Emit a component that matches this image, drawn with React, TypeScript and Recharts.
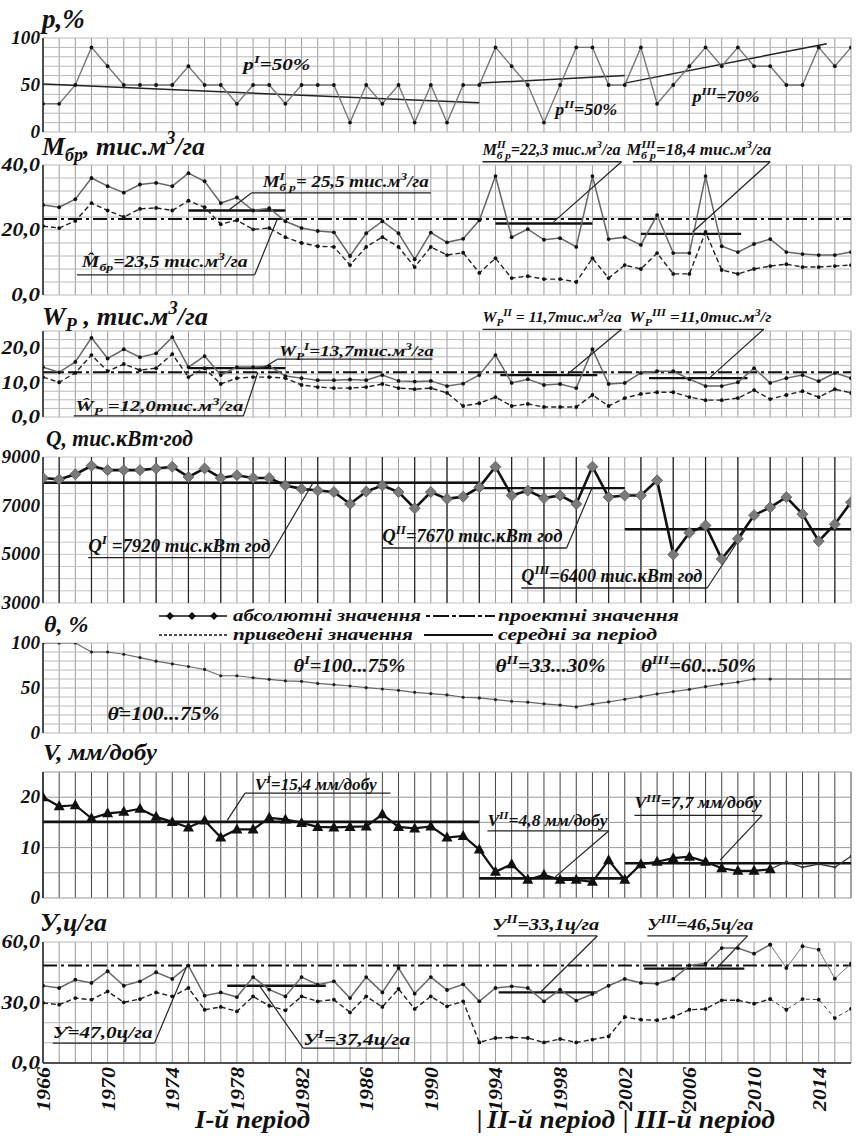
import React from 'react';
import { CartesianGrid, Line, LineChart, ReferenceDot, ReferenceLine, XAxis, YAxis } from 'recharts';

const FONT = "'Liberation Serif', 'Times New Roman', serif";
const W = 858;
const H = 1136;
const LEFT = 43;
const RIGHT = 851;
const YW = 42;

// x axis: one point per year
const YEARS = [
  1966, 1967, 1968, 1969, 1970, 1971, 1972, 1973, 1974, 1975,
  1976, 1977, 1978, 1979, 1980, 1981, 1982, 1983, 1984, 1985,
  1986, 1987, 1988, 1989, 1990, 1991, 1992, 1993, 1994, 1995,
  1996, 1997, 1998, 1999, 2000, 2001, 2002, 2003, 2004, 2005,
  2006, 2007, 2008, 2009, 2010, 2011, 2012, 2013, 2014, 2015,
  2016,
];
const PERIOD_BREAKS = [1993, 2002];
const CUT_YEAR = 2011;

// p, %
const P_ABS = [
  30, 30, 50, 90, 70, 50, 50, 50, 50, 70,
  50, 50, 30, 50, 50, 30, 50, 50, 50, 10,
  50, 30, 50, 10, 50, 10, 50, 50, 90, 70,
  50, 10, 50, 90, 90, 50, 50, 90, 30, 50,
  70, 90, 70, 90, 70, 70, 50, 50, 90, 70,
  90,
];
const P_TRENDS = [
  { from: 1966, to: 1993, a: 51, b: 31 },
  { from: 1993, to: 2002, a: 52, b: 60 },
  { from: 2002, to: 2014.5, a: 52, b: 94 },
];
const P_TICKS = [0, 10, 20, 30, 40, 50, 60, 70, 80, 90, 100];
const P_LABELS = [0, 50, 100];

// M_бр, тис.м3/га
const M_ABS = [
  27.7, 27, 29.5, 36, 33.5, 31.5, 34, 34.5, 33.5, 37.5,
  35, 28.3, 30, 26, 26.7, 22.7, 20.6, 19.7, 19.3, 12,
  19, 22.7, 19, 11, 19.2, 16.2, 17.3, 23, 36.6, 17.8,
  20.3, 17, 17.5, 14.8, 36.6, 17.2, 17.8, 15.4, 24.6, 12.9,
  12.9, 36.6, 15, 13.2, 15.7, 17.2, 13.2, 12.6, 12.3, 12.3,
  13.2,
];
const M_RED = [
  21.2, 20.6, 22.8, 28.3, 26, 24, 26.5, 26.8, 26, 29,
  27, 21.8, 23, 20.2, 20.6, 17.8, 16, 15, 14.8, 9.2,
  14.8, 17.8, 14.8, 8.6, 14.8, 12.3, 13, 6.8, 11.3, 5.2,
  5.8, 4.9, 4.9, 4, 11.3, 5.2, 9.2, 8, 12.9, 6.5,
  6.5, 19.4, 7.7, 6.5, 8, 8.9, 9.5, 8.6, 8.6, 8.9,
  9.2,
];
const M_PROJECT = 23.4;
const M_MEANS = [
  { from: 1975, to: 1981, value: 26 },
  { from: 1994, to: 2000, value: 22 },
  { from: 2003, to: 2009.2, value: 18.8 },
];
const M_TICKS = [0, 4, 8, 12, 16, 20, 24, 28, 32, 36, 40];
const M_LABELS = [0, 20, 40];

// Wp, тис.м3/га
const WP_ABS = [
  14.5, 13, 16, 23, 17, 19.7, 17.4, 18.5, 23.2, 14.5,
  17.7, 12.2, 14.5, 14.5, 14.8, 11.9, 11.3, 10.7, 10.7, 10.9,
  10.7, 12.2, 10.5, 10.3, 10.5, 9, 9.7, 12.2, 18, 9.9,
  11, 9.3, 9.6, 8.4, 19.7, 9.6, 9.9, 12.8, 13.3, 13.3,
  11, 9, 9, 10.1, 14.2, 9.9, 11.3, 12.2, 10.4, 12.8,
  11.3,
];
const WP_RED = [
  11.6, 10.1, 12.8, 18, 13.3, 15.4, 13.6, 14.2, 18.3, 11.6,
  14.2, 9.6, 11.3, 11.6, 11.6, 11.3, 9.3, 8.7, 8.4, 8.4,
  8.7, 9.6, 8.4, 8.1, 8.4, 7, 3.2, 4, 5.8, 3.2,
  3.8, 2.9, 2.9, 2.9, 6.4, 3.2, 5.5, 6.7, 7.2, 7.2,
  5.8, 4.9, 4.9, 5.5, 7.8, 5.2, 6.4, 7.5, 5.8, 8.1,
  7,
];
const WP_PROJECT = 13;
const WP_MEANS = [
  { from: 1975, to: 1981, value: 14.2 },
  { from: 1994.3, to: 2000.3, value: 12.2 },
  { from: 2003.5, to: 2009.6, value: 11.3 },
];
const WP_TICKS = [0, 2.5, 5, 7.5, 10, 12.5, 15, 17.5, 20, 22.5, 25];
const WP_LABELS = [0, 10, 20];

// Q, тис.кВт·год
const Q_ABS = [
  8140, 8080, 8290, 8640, 8460, 8460, 8460, 8530, 8600, 8180,
  8530, 8140, 8250, 8140, 8140, 7830, 7690, 7620, 7560, 7070,
  7580, 7830, 7560, 6890, 7560, 7280, 7370, 7760, 8600, 7420,
  7620, 7310, 7420, 7070, 8600, 7350, 7420, 7420, 8040, 4990,
  5890, 6190, 4810, 5640, 6610, 6930, 7350, 6650, 5540, 6240,
  7140,
];
const Q_MEANS = [
  { from: 1966, to: 1993, value: 7940 },
  { from: 1993, to: 2002, value: 7720 },
  { from: 2002, to: 2016, value: 6030 },
];
const Q_TICKS = [3000, 3500, 4000, 4500, 5000, 5500, 6000, 6500, 7000, 7500, 8000, 8500, 9000];
const Q_LABELS = [3000, 5000, 7000, 9000];

// θ, %
const THETA = [
  100, 100, 100, 90, 90, 87.5, 83.8, 79.8, 76.8, 73.9,
  70.6, 63.6, 63.6, 61.4, 59.6, 58, 57.4, 55.1, 53.7, 52.2,
  50.4, 48.9, 47.4, 45.2, 43.8, 42.3, 39.7, 39, 37.1, 35.3,
  34.2, 32.4, 30.9, 29, 32, 34.6, 37.5, 40.4, 43.4, 46,
  48.5, 51.5, 54.4, 56.6, 60, 60, 60, 60, 60, 60,
  60,
];
const TH_TICKS = [0, 10, 20, 30, 40, 50, 60, 70, 80, 90, 100];
const TH_LABELS = [0, 50, 100];

// V, мм/добу
const V_ABS = [
  20, 18.2, 18.4, 15.8, 16.8, 17.1, 17.7, 16.1, 15.1, 14,
  15.4, 12, 13.6, 13.6, 15.9, 15.6, 14.9, 14.1, 14, 14.1,
  14.2, 16.6, 14.1, 13.8, 14.2, 12, 12.3, 9.6, 5.2, 6.7,
  3.6, 4.6, 3.6, 3.6, 3.2, 7.5, 3.6, 6.7, 7.2, 7.9,
  8.2, 7.2, 5.9, 5.4, 5.4, 5.7, 7.2, 6.1, 6.7, 6.1,
  8.3,
];
const V_MEANS = [
  { from: 1966, to: 1993, value: 15.1 },
  { from: 1993, to: 2002, value: 3.9 },
  { from: 2002, to: 2016, value: 6.9 },
];
const V_TICKS = [0, 5, 10, 15, 20, 25];
const V_LABELS = [0, 10, 20];

// У, ц/га
const Y_ABS = [
  38.3, 37.2, 41.3, 39.7, 45.5, 38.3, 40.5, 45, 41.7, 48.3,
  33.4, 35, 32.7, 42.6, 36.4, 33, 42.6, 38.8, 40.5, 32.2,
  42.6, 35, 47.1, 34.4, 42.6, 36.2, 39, 30.6, 37.2, 38,
  37.2, 30.6, 36.4, 30.9, 34.2, 38.3, 41.7, 39.7, 39.3, 41.7,
  48.4, 49.3, 57, 57, 54.2, 58.7, 47.1, 57.9, 56.2, 41.8,
  49.3,
];
const Y_RED = [
  29.8, 28.9, 32.2, 31.4, 35.5, 30.1, 31.7, 35, 33, 37.2,
  26.4, 27.8, 25.6, 33, 28.4, 26.1, 33, 30.6, 31.4, 25.1,
  33, 27.8, 36.7, 26.8, 33, 28.1, 30.6, 10.2, 12.4, 12.7,
  12.4, 10.2, 11.9, 10.2, 11.6, 13.2, 22.8, 21.5, 21.2, 22.8,
  26.4, 26.8, 31.1, 31.1, 29.4, 31.7, 26.4, 31.7, 31.4, 22.3,
  26.8,
];
const Y_PROJECT = 48.3;
const Y_MEANS = [
  { from: 1977.4, to: 1983.5, value: 38.3 },
  { from: 1994.2, to: 2000.3, value: 35 },
  { from: 2003.2, to: 2009.4, value: 46.8 },
];
const Y_TICKS = [0, 10, 20, 30, 40, 50, 60];
const Y_LABELS = [0, 30, 60];

// annotations: text anchor + width, underline [x1, x2, y], leader [x1, y1, x2, y2]
type Note = { text: string; x: number; y: number; w?: number; line?: number[]; lead?: number[] };

const P_NOTES: Note[] = [
  { text: 'p^{I}=50%', x: 1978.4, y: 66, w: 67 },
  { text: 'p^{II}=50%', x: 1997.7, y: 18, w: 62 },
  { text: 'p^{III}=70%', x: 2006.2, y: 32, w: 67 },
];
const M_NOTES: Note[] = [
  { text: 'M^{I}_{б р}= 25,5 тис.м^{3}/га', x: 1979.6, y: 33.2, w: 166, line: [1978.9, 1990, 31.4], lead: [1978.9, 31.4, 1977.4, 25.8] },
  { text: 'M\u0302_{бр}=23,5 тис.м^{3}/га', x: 1968.4, y: 8.6, w: 166, line: [1968.1, 1979.1, 6.2], lead: [1979.1, 6.2, 1980.5, 23.4] },
  { text: 'M^{II}_{б р}=22,3 тис.м^{3}/га', x: 1993.2, y: 43.1, w: 138, line: [1993.2, 2001.8, 41], lead: [2001.8, 41, 1997.6, 22.5] },
  { text: 'M^{III}_{б р}=18,4 тис.м^{3}/га', x: 2002.1, y: 43.1, w: 145, line: [2002.5, 2011, 41], lead: [2011, 41, 2006.2, 19.4] },
];
const WP_NOTES: Note[] = [
  { text: 'W_{P}^{I}=13,7тис.м^{3}/га', x: 1980.6, y: 17.6, w: 155, line: [1980.5, 1990.1, 16.8], lead: [1980.5, 16.8, 1979.6, 14.2] },
  { text: 'W\u0302_{P} =12,0тис.м^{3}/га', x: 1968, y: 1.6, w: 168, line: [1967.9, 1978.4, 0.3], lead: [1978.4, 0.3, 1979.3, 13] },
  { text: 'W_{P}^{II} = 11,7тис.м^{3}/га', x: 1993.2, y: 27.6, w: 139, line: [1993.2, 2001.8, 25.5], lead: [2001.8, 25.5, 1998.4, 12.2] },
  { text: 'W_{P}^{III} =11,0тис.м^{3}/г', x: 2002.3, y: 27.6, w: 142, line: [2002.3, 2010.6, 25.5], lead: [2010.6, 25.5, 2007.3, 11.6] },
];
const Q_NOTES: Note[] = [
  { text: 'Q^{I} =7920 тис.кВт год', x: 1968.8, y: 5096, w: 182, line: [1968.8, 1980, 4862], lead: [1980, 4862, 1982.7, 7931] },
  { text: 'Q^{II}=7670 тис.кВт год', x: 1987, y: 5507, w: 180, line: [1987, 1998.4, 5260], lead: [1998.4, 5260, 2000, 7767] },
  { text: 'Q^{III}=6400 тис.кВт год', x: 1995.6, y: 3863, w: 181, line: [1995.6, 2007.1, 3617], lead: [2007.1, 3617, 2009.5, 6041] },
];
const TH_NOTES: Note[] = [
  { text: 'θ^{I}=100...75%', x: 1981.5, y: 68, w: 112 },
  { text: 'θ^{II}=33...30%', x: 1994, y: 68, w: 110 },
  { text: 'θ^{III}=60...50%', x: 2003, y: 68, w: 115 },
  { text: 'θ\u0302=100...75%', x: 1970, y: 14, w: 112 },
];
const V_NOTES: Note[] = [
  { text: 'V^{I}=15,4 мм/добу', x: 1979.1, y: 21.4, w: 122, line: [1978.5, 1987.5, 20.8], lead: [1978.5, 20.8, 1977.4, 15.4] },
  { text: 'V^{II}=4,8 мм/добу', x: 1993.5, y: 14.3, w: 120, line: [1993.5, 2001, 13.3], lead: [2001, 13.3, 1997.7, 4.2] },
  { text: 'V^{III}=7,7 мм/добу', x: 2002.6, y: 17.8, w: 127, line: [2002.6, 2010.5, 16.4], lead: [2010.5, 16.4, 2007.9, 7.5] },
];
const Y_NOTES: Note[] = [
  { text: 'У\u0302=47,0ц/га', x: 1966.6, y: 12.4, w: 100, line: [1966.6, 1972.9, 9.9], lead: [1972.9, 9.9, 1974.9, 48] },
  { text: 'У^{I}=37,4ц/га', x: 1982.1, y: 8.9, w: 107, line: [1982.1, 1988.1, 7.4], lead: [1982.1, 7.4, 1979.4, 38.2] },
  { text: 'У^{II}=33,1ц/га', x: 1993.8, y: 65.9, w: 107, line: [1994.1, 2000.3, 63], lead: [2000.3, 63, 1996.8, 35.2] },
  { text: 'У^{III}=46,5ц/га', x: 2003.4, y: 65.9, w: 106, line: [2003.4, 2009.6, 63], lead: [2009.6, 63, 2007.7, 47.1] },
];

const rows = YEARS.map((year, i) => ({
  year,
  p: P_ABS[i],
  m: M_ABS[i],
  mr: M_RED[i],
  w: WP_ABS[i],
  wr: WP_RED[i],
  q: Q_ABS[i],
  th: year <= CUT_YEAR ? THETA[i] : null,
  thTail: year >= CUT_YEAR ? THETA[i] : null,
  v: year <= CUT_YEAR ? V_ABS[i] : null,
  vTail: year >= CUT_YEAR ? V_ABS[i] : null,
  y: year <= CUT_YEAR ? Y_ABS[i] : null,
  yTail: year >= CUT_YEAR ? Y_ABS[i] : null,
  yr: year <= CUT_YEAR ? Y_RED[i] : null,
  yrTail: year >= CUT_YEAR ? Y_RED[i] : null,
}));

type Part = { t: string; sup?: boolean; sub?: boolean };

function parseRich(s: string): Part[] {
  const parts: Part[] = [];
  const re = /([\^_])\{([^}]*)\}|([^\^_]+)/g;
  let m: RegExpExecArray | null;
  while ((m = re.exec(s))) {
    if (m[3]) parts.push({ t: m[3] });
    else parts.push({ t: m[2], sup: m[1] === '^', sub: m[1] === '_' });
  }
  return parts;
}

function RichText({ x, y, text, size, length }: { x: number; y: number; text: string; size: number; length?: number }) {
  const parts = parseRich(text);
  const small = size * 0.7;
  let shift = 0;
  return (
    <text
      x={x}
      y={y}
      fontFamily={FONT}
      fontWeight="bold"
      fontStyle="italic"
      fontSize={size}
      fill="#111"
      textLength={length}
      lengthAdjust={length ? 'spacingAndGlyphs' : undefined}
    >
      {parts.map((p, i) => {
        const target = p.sup ? -size * 0.42 : p.sub ? size * 0.24 : 0;
        const dy = target - shift;
        shift = target;
        const prev = parts[i - 1];
        // stacked index: subscript goes back under the superscript
        const dx = p.sub && prev && prev.sup ? -prev.t.length * small * 0.4 : 0;
        return (
          <tspan key={i} dx={dx || undefined} dy={dy || undefined} fontSize={p.sup || p.sub ? small : size}>
            {p.t}
          </tspan>
        );
      })}
    </text>
  );
}

function YearTick(props: any) {
  const { x, y, payload } = props;
  const v = payload.value;
  if ((v - 1966) % 4 !== 0) return <g />;
  return (
    <text
      x={0}
      y={0}
      transform={`translate(${x + 7}, ${y + 4}) rotate(-90)`}
      textAnchor="end"
      fontFamily={FONT}
      fontWeight="bold"
      fontStyle="italic"
      fontSize={19}
      fill="#111"
      textLength={44}
      lengthAdjust="spacingAndGlyphs"
    >
      {v}
    </text>
  );
}

const valueTick = (labels: number[], digits: number) => (props: any) => {
  const { x, y, payload } = props;
  if (!labels.includes(payload.value)) return <g />;
  const label = Number(payload.value).toFixed(digits).replace('.', ',');
  return (
    <text
      x={x}
      y={y}
      dy={6}
      textAnchor="end"
      fontFamily={FONT}
      fontWeight="bold"
      fontStyle="italic"
      fontSize={18}
      fill="#111"
      textLength={label.length * 9.6}
      lengthAdjust="spacingAndGlyphs"
    >
      {label}
    </text>
  );
};

function Diamond(props: any) {
  const { cx, cy, index } = props;
  if (cx == null || cy == null) return <g key={`d${index}`} />;
  const s = 5.5;
  return (
    <polygon
      key={`d${index}`}
      points={`${cx},${cy - s} ${cx + s},${cy} ${cx},${cy + s} ${cx - s},${cy}`}
      fill="#7a7a7a"
      stroke="#555"
      strokeWidth={0.8}
    />
  );
}

function Triangle(props: any) {
  const { cx, cy, index } = props;
  if (cx == null || cy == null) return <g key={`t${index}`} />;
  return <polygon key={`t${index}`} points={`${cx},${cy - 6} ${cx + 5.5},${cy + 4} ${cx - 5.5},${cy + 4}`} fill="#111" />;
}

function notes(list: Note[], size: number) {
  return list.flatMap((n, i) => {
    const out = [
      <ReferenceDot
        key={`t${i}`}
        x={n.x}
        y={n.y}
        r={1}
        ifOverflow="visible"
        shape={(p: any) => <RichText x={p.cx} y={p.cy} text={n.text} size={size} length={n.w} />}
      />,
    ];
    if (n.line) {
      out.push(
        <ReferenceLine
          key={`u${i}`}
          segment={[{ x: n.line[0], y: n.line[2] }, { x: n.line[1], y: n.line[2] }]}
          stroke="#222"
          strokeWidth={1.3}
          ifOverflow="visible"
        />,
      );
    }
    if (n.lead) {
      out.push(
        <ReferenceLine
          key={`l${i}`}
          segment={[{ x: n.lead[0], y: n.lead[1] }, { x: n.lead[2], y: n.lead[3] }]}
          stroke="#222"
          strokeWidth={1.2}
          ifOverflow="visible"
        />,
      );
    }
    return out;
  });
}

function means(list: { from: number; to: number; value: number }[], width = 2.3) {
  return list.map((m, i) => (
    <ReferenceLine
      key={`m${i}`}
      segment={[{ x: m.from, y: m.value }, { x: m.to, y: m.value }]}
      stroke="#111"
      strokeWidth={width}
      ifOverflow="visible"
    />
  ));
}

type PanelProps = {
  top: number;
  plotHeight: number;
  padTop?: number;
  padBottom?: number;
  domain: [number, number];
  ticks: number[];
  labels: number[];
  digits?: number;
  showYears?: boolean;
  vGrid?: string;
  hGrid?: string;
  children?: React.ReactNode;
};

function Panel({
  top,
  plotHeight,
  padTop = 22,
  padBottom = 12,
  domain,
  ticks,
  labels,
  digits = 0,
  showYears = false,
  vGrid = '#9a9a9a',
  hGrid = '#b8b8b8',
  children,
}: PanelProps) {
  const axisH = showYears ? 66 : 0;
  return (
    <div style={{ position: 'absolute', left: 0, top: top - padTop }}>
      <LineChart
        width={W}
        height={padTop + plotHeight + padBottom + axisH}
        data={rows}
        margin={{ top: padTop, right: W - RIGHT, bottom: padBottom, left: LEFT - YW }}
      >
        <CartesianGrid horizontal={false} stroke={vGrid} strokeWidth={1} />
        <CartesianGrid vertical={false} stroke={hGrid} strokeWidth={1} />
        <XAxis
          dataKey="year"
          type="number"
          domain={[1966, 2016]}
          ticks={YEARS}
          interval={0}
          allowDataOverflow
          hide={!showYears}
          height={axisH}
          tick={YearTick}
          tickLine={false}
          tickSize={0}
          tickMargin={0}
          axisLine={{ stroke: '#222', strokeWidth: 1.5 }}
        />
        <YAxis
          type="number"
          domain={domain}
          ticks={ticks}
          interval={0}
          allowDataOverflow
          width={YW}
          tick={valueTick(labels, digits)}
          tickLine={false}
          tickSize={1}
          tickMargin={2}
          axisLine={{ stroke: '#222', strokeWidth: 1.5 }}
        />
        {children}
      </LineChart>
    </div>
  );
}

function PeriodRules({ from, to }: { from: number; to: number }) {
  return (
    <div style={{ position: 'absolute', left: 0, top: from }}>
      <LineChart width={W} height={to - from} data={rows} margin={{ top: 0, right: W - RIGHT, bottom: 0, left: LEFT }}>
        <XAxis dataKey="year" type="number" domain={[1966, 2016]} hide />
        <YAxis type="number" domain={[0, 1]} hide />
        {PERIOD_BREAKS.map((yr) => (
          <ReferenceLine key={yr} x={yr} stroke="#000" strokeWidth={2.5} ifOverflow="visible" />
        ))}
      </LineChart>
    </div>
  );
}

const dotSmall = { r: 1.9, fill: '#111', stroke: 'none' };

export default function App() {
  return (
    <div style={{ position: 'absolute', left: 0, top: 0, width: W, height: H, background: '#fff', overflow: 'hidden' }}>
      {/* p, % */}
      <Panel top={38} plotHeight={94} padTop={12} domain={[0, 100]} ticks={P_TICKS} labels={P_LABELS}>
        {P_TRENDS.map((t, i) => (
          <ReferenceLine
            key={`tr${i}`}
            segment={[{ x: t.from, y: t.a }, { x: t.to, y: t.b }]}
            stroke="#222"
            strokeWidth={1.5}
            ifOverflow="visible"
          />
        ))}
        <Line dataKey="p" stroke="#777" strokeWidth={1.4} dot={dotSmall} activeDot={false} isAnimationActive={false} />
        {notes(P_NOTES, 16)}
      </Panel>

      {/* M_бр */}
      <Panel top={165} plotHeight={130} padTop={36} domain={[0, 40]} ticks={M_TICKS} labels={M_LABELS} digits={1}>
        <ReferenceLine y={M_PROJECT} stroke="#111" strokeWidth={2} strokeDasharray="14 4 3 4" />
        {means(M_MEANS)}
        <Line dataKey="mr" stroke="#222" strokeWidth={1.4} strokeDasharray="5 3" dot={dotSmall} activeDot={false} isAnimationActive={false} />
        <Line dataKey="m" stroke="#666" strokeWidth={1.5} dot={dotSmall} activeDot={false} isAnimationActive={false} />
        {notes(M_NOTES, 16)}
      </Panel>

      {/* Wp */}
      <Panel top={331} plotHeight={86} padTop={34} domain={[0, 25]} ticks={WP_TICKS} labels={WP_LABELS} digits={1}>
        <ReferenceLine y={WP_PROJECT} stroke="#111" strokeWidth={2} strokeDasharray="14 4 3 4" />
        {means(WP_MEANS)}
        <Line dataKey="wr" stroke="#222" strokeWidth={1.4} strokeDasharray="5 3" dot={dotSmall} activeDot={false} isAnimationActive={false} />
        <Line dataKey="w" stroke="#666" strokeWidth={1.5} dot={dotSmall} activeDot={false} isAnimationActive={false} />
        {notes(WP_NOTES, 15)}
      </Panel>

      {/* Q */}
      <Panel top={457} plotHeight={146} padTop={14} domain={[3000, 9000]} ticks={Q_TICKS} labels={Q_LABELS} hGrid="#c4c4c4">
        {YEARS.filter((yr) => yr % 2 === 1).map((yr) => (
          <ReferenceLine key={`g${yr}`} x={yr} stroke="#222" strokeWidth={1.2} />
        ))}
        {means(Q_MEANS, 2.4)}
        <Line dataKey="q" stroke="#111" strokeWidth={2.6} dot={Diamond} activeDot={false} isAnimationActive={false} />
        {notes(Q_NOTES, 18)}
      </Panel>

      {/* θ */}
      <Panel top={643} plotHeight={90} padTop={16} domain={[0, 100]} ticks={TH_TICKS} labels={TH_LABELS}>
        <Line dataKey="th" stroke="#666" strokeWidth={1.2} dot={{ r: 1.6, fill: '#222', stroke: 'none' }} activeDot={false} isAnimationActive={false} />
        <Line dataKey="thTail" stroke="#666" strokeWidth={1.2} dot={false} activeDot={false} isAnimationActive={false} />
        {notes(TH_NOTES, 18)}
      </Panel>

      {/* V */}
      <Panel top={772} plotHeight={126} padTop={12} domain={[0, 25]} ticks={V_TICKS} labels={V_LABELS} vGrid="#444" hGrid="#999">
        {means(V_MEANS, 2.6)}
        <Line dataKey="vTail" stroke="#333" strokeWidth={1.3} dot={{ r: 1.3, fill: '#333', stroke: 'none' }} activeDot={false} isAnimationActive={false} />
        <Line dataKey="v" stroke="#111" strokeWidth={2.2} dot={Triangle} activeDot={false} isAnimationActive={false} />
        {notes(V_NOTES, 16)}
      </Panel>

      {/* У */}
      <Panel top={942} plotHeight={121} padTop={40} padBottom={0} domain={[0, 60]} ticks={Y_TICKS} labels={Y_LABELS} digits={1} showYears>
        <ReferenceLine y={Y_PROJECT} stroke="#111" strokeWidth={2} strokeDasharray="14 4 3 4" />
        {means(Y_MEANS)}
        <Line dataKey="yr" stroke="#222" strokeWidth={1.4} strokeDasharray="5 3" dot={dotSmall} activeDot={false} isAnimationActive={false} />
        <Line dataKey="yrTail" stroke="#444" strokeWidth={1} strokeDasharray="4 3" dot={dotSmall} activeDot={false} isAnimationActive={false} />
        <Line dataKey="y" stroke="#666" strokeWidth={1.5} dot={dotSmall} activeDot={false} isAnimationActive={false} />
        <Line dataKey="yTail" stroke="#777" strokeWidth={1} dot={dotSmall} activeDot={false} isAnimationActive={false} />
        {notes(Y_NOTES, 17)}
      </Panel>

      <PeriodRules from={38} to={418} />
      <PeriodRules from={455} to={603} />
      <PeriodRules from={643} to={733} />
      <PeriodRules from={772} to={1063} />

      <svg width={W} height={H} style={{ position: 'absolute', left: 0, top: 0, pointerEvents: 'none' }}>
        {/* panel titles */}
        <RichText x={42} y={28} text="p,%" size={27} />
        <RichText x={42} y={155} text="M_{бр}, тис.м^{3}/га" size={26} length={163} />
        <RichText x={42} y={325} text="W_{P} , тис.м^{3}/га" size={26} length={166} />
        <RichText x={46} y={446} text="Q, тис.кВт·год" size={23} length={147} />
        <RichText x={44} y={632} text="θ, %" size={24} />
        <RichText x={43} y={760} text="V, мм/добу" size={23} length={114} />
        <RichText x={40} y={931} text="У,ц/га" size={26} length={67} />

        {/* legend */}
        <line x1={159} y1={616} x2={227} y2={616} stroke="#111" strokeWidth={1.6} />
        {[170, 192, 214].map((cx) => (
          <polygon key={cx} points={`${cx},${612} ${cx + 4},${616} ${cx},${620} ${cx - 4},${616}`} fill="#111" />
        ))}
        <RichText x={233} y={621} text="абсолютні значення" size={17} length={188} />
        <line x1={426} y1={616} x2={495} y2={616} stroke="#111" strokeWidth={1.8} strokeDasharray="4 3 16 3" />
        <RichText x={498} y={621} text="проектні значення" size={17} length={181} />
        <line x1={159} y1={635} x2={227} y2={635} stroke="#111" strokeWidth={1.3} strokeDasharray="3 2" />
        <RichText x={233} y={640} text="приведені значення" size={17} length={180} />
        <line x1={424} y1={635} x2={493} y2={635} stroke="#111" strokeWidth={2} />
        <RichText x={498} y={640} text="середні за період" size={17} length={159} />

        {/* periods */}
        <RichText x={195} y={1128} text="I-й період" size={25} length={115} />
        <RichText x={477} y={1128} text="|" size={25} />
        <RichText x={487} y={1128} text="II-й період" size={25} length={128} />
        <RichText x={623} y={1128} text="|" size={25} />
        <RichText x={635} y={1128} text="III-й період" size={25} length={140} />
      </svg>
    </div>
  );
}
